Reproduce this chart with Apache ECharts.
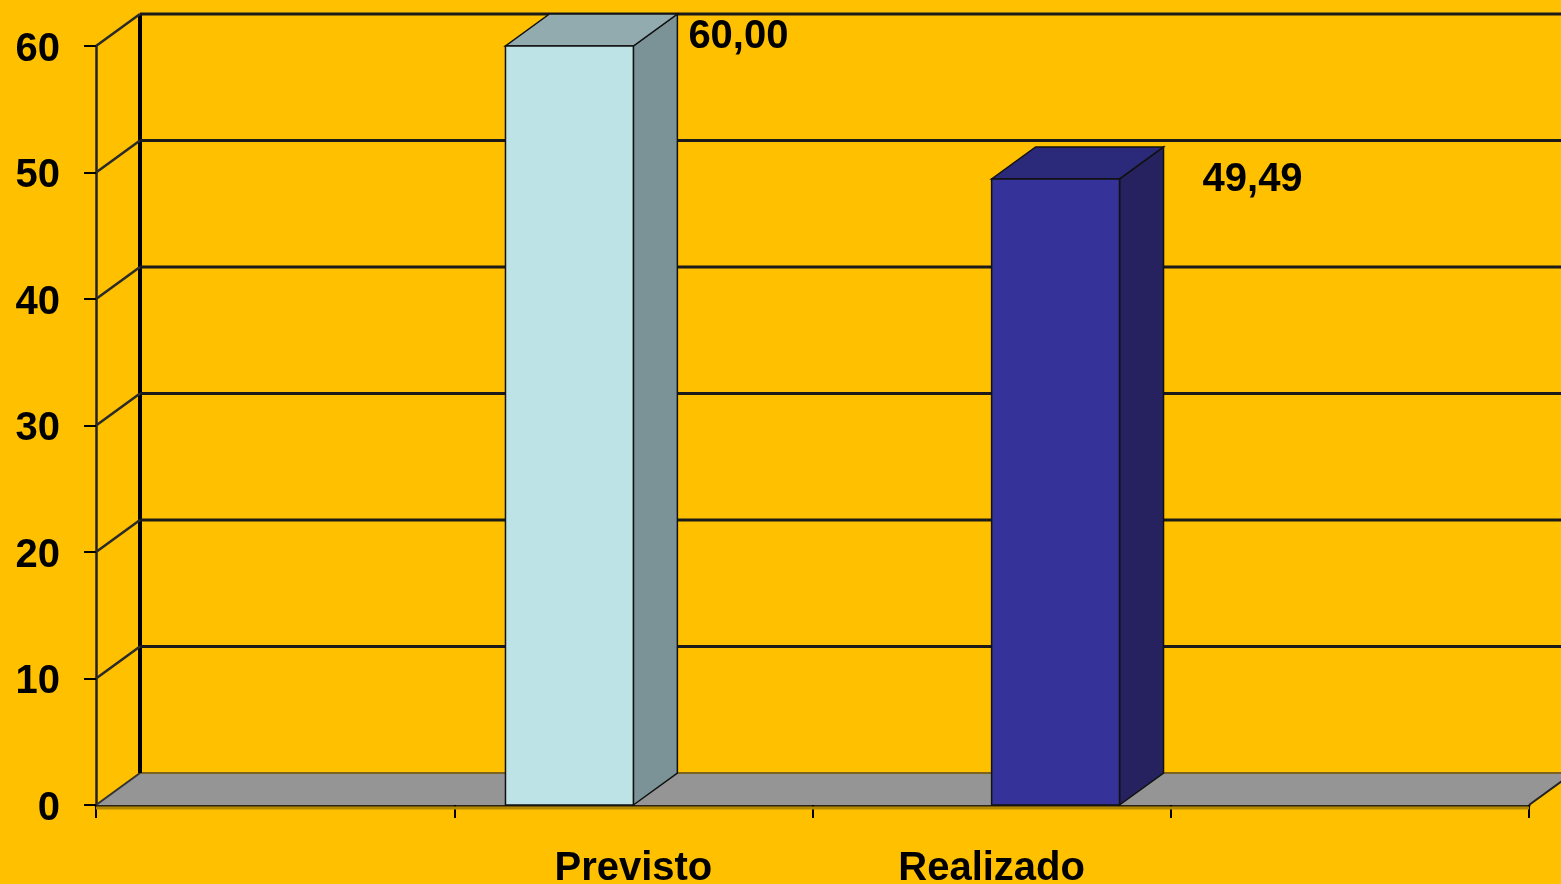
<!DOCTYPE html>
<html><head><meta charset="utf-8">
<script src="https://cdn.jsdelivr.net/npm/echarts@6/dist/echarts.min.js"></script>
<style>html,body{margin:0;padding:0;background:#FFC000;}#c{width:1561px;height:884px;}</style>
</head><body><div id="c"></div>
<script>
const categories = ['', 'Previsto', 'Realizado', ''];
const previsto = [null, 60, null, null];
const realizado = [null, null, 49.49, null];
const yTicks = [0, 10, 20, 30, 40, 50, 60];

const DX = 44, DY = -32;
const FONT = 'Liberation Sans, Arial, sans-serif';
function fmt(v) { return v.toFixed(2).replace('.', ','); }

function frameRender(params, api) {
  const cs = params.coordSys;
  const v = api.value(1);
  const y = api.coord([0, v])[1];
  const x0 = cs.x, x1 = cs.x + cs.width;
  const children = [];
  if (v === yTicks[0]) {
    const yTop = api.coord([0, yTicks[yTicks.length - 1]])[1] + DY;
    children.push({ type: 'polygon', shape: { points: [[x0, y], [x1, y], [x1 + DX, y + DY], [x0 + DX, y + DY]] },
      style: { fill: '#959595', stroke: null } });
    children.push({ type: 'line', shape: { x1: x0, y1: y + 3, x2: x1, y2: y + 3 }, style: { stroke: '#B58900', lineWidth: 3 } });
    children.push({ type: 'line', shape: { x1: x0 + DX, y1: y + DY, x2: x1 + DX, y2: y + DY }, style: { stroke: '#7a6420', lineWidth: 2 } });
    children.push({ type: 'line', shape: { x1: x1, y1: y, x2: x1 + DX, y2: y + DY }, style: { stroke: '#222', lineWidth: 2 } });
    children.push({ type: 'line', shape: { x1: x0, y1: y, x2: x0 + DX, y2: y + DY }, style: { stroke: '#333', lineWidth: 2 } });
    children.push({ type: 'line', shape: { x1: x0 + DX, y1: yTop, x2: x0 + DX, y2: y + DY }, style: { stroke: '#000', lineWidth: 4 } });
  } else {
    children.push({ type: 'line', shape: { x1: x0 + DX, y1: y + DY, x2: x1 + DX, y2: y + DY }, style: { stroke: '#1a1a1a', lineWidth: 3 } });
    children.push({ type: 'line', shape: { x1: x0, y1: y, x2: x0 + DX, y2: y + DY }, style: { stroke: '#2a2a2a', lineWidth: 2.5 } });
  }
  return { type: 'group', children };
}

function barRender(offsetFactor, colors, labelDx, labelDy) {
  return function (params, api) {
    const idx = api.value(0), val = api.value(1);
    const top = api.coord([idx, val]);
    const base = api.coord([idx, 0]);
    const slot = api.size([1, 0])[0];
    const w = slot * 0.357;
    const xl = top[0] + offsetFactor * w, xr = xl + w;
    const yt = top[1], yb = base[1];
    const stroke = '#111';
    return { type: 'group', children: [
      { type: 'polygon', shape: { points: [[xr, yb], [xr + DX, yb + DY], [xr + DX, yt + DY], [xr, yt]] }, style: { fill: colors.side, stroke, lineWidth: 1.5 } },
      { type: 'polygon', shape: { points: [[xl, yt], [xr, yt], [xr + DX, yt + DY], [xl + DX, yt + DY]] }, style: { fill: colors.top, stroke, lineWidth: 1.5 } },
      { type: 'rect', shape: { x: xl, y: yt, width: w, height: yb - yt }, style: { fill: colors.front, stroke, lineWidth: 1.5 } },
      { type: 'text', style: { text: fmt(val), x: xr + labelDx, y: yt + labelDy, fill: '#000',
        font: 'bold 40px ' + FONT, textAlign: 'left', textVerticalAlign: 'middle', verticalAlign: 'middle' } }
    ] };
  };
}

const toData = arr => arr.map((v, i) => [i, v]).filter(d => d[1] != null);

const chart = echarts.init(document.getElementById('c'), null, { renderer: 'canvas' });
chart.setOption({
  backgroundColor: '#FFC000',
  animation: false,
  grid: { left: 96, right: 32, top: 46, bottom: 79, containLabel: false, outerBoundsMode: 'none' },
  xAxis: {
    type: 'category', data: categories, boundaryGap: true,
    axisLine: { show: true, lineStyle: { color: '#2b2416', width: 3 } },
    axisTick: { show: true, length: 13, lineStyle: { color: '#000', width: 2 } },
    axisLabel: { interval: 0, margin: 44, color: '#000', fontWeight: 'bold', fontSize: 40, fontFamily: FONT },
    splitLine: { show: false }
  },
  yAxis: {
    type: 'value', min: 0, max: 60, interval: 10,
    axisLine: { show: true, lineStyle: { color: '#222', width: 2.5 } },
    axisTick: { show: true, length: 12, lineStyle: { color: '#000', width: 2 } },
    axisLabel: { margin: 36, formatter: v => '{a|' + v + '}',
      rich: { a: { color: '#000', fontWeight: 'bold', fontSize: 40, fontFamily: FONT, padding: [7, 0, 0, 0] } } },
    splitLine: { show: false }
  },
  series: [
    { type: 'custom', name: 'frame', z: 1, renderItem: frameRender, data: yTicks.map(v => [0, v]), encode: { x: 0, y: 1 }, silent: true },
    { type: 'custom', name: 'Previsto', z: 5, renderItem: barRender(-1, { front: '#BDE3E6', side: '#7B9396', top: '#92ABAF' }, 55, -9),
      data: toData(previsto), encode: { x: 0, y: 1 } },
    { type: 'custom', name: 'Realizado', z: 5, renderItem: barRender(0, { front: '#353399', side: '#25225F', top: '#2B2A7A' }, 83, 1),
      data: toData(realizado), encode: { x: 0, y: 1 } }
  ]
});
</script></body></html>
